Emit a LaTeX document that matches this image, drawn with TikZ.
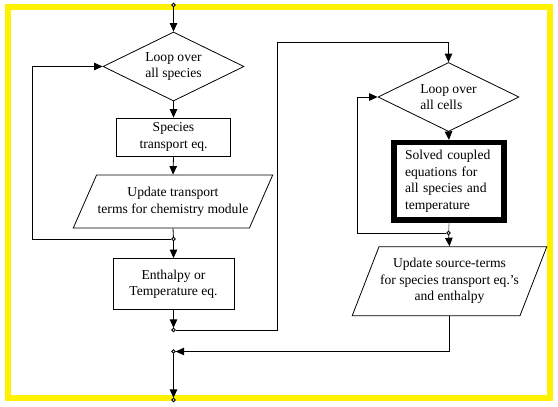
\documentclass[tikz,border=0pt]{standalone}
\usepackage{fontspec}
\setmainfont{Liberation Serif}
\usetikzlibrary{shapes.geometric,arrows.meta,positioning}

\tikzset{
  flow/.style={-{Triangle[length=8.5pt,width=7.5pt]}},
  joint/.style={circle,draw,fill=white,inner sep=0pt,minimum size=3.5pt},
  loopbox/.style={diamond,draw,aspect=2.03,minimum width=141pt,minimum height=69pt,inner sep=0pt},
  eqbox/.style={rectangle,draw,align=center},
  iobox/.style={trapezium,draw,trapezium stretches=true,align=center,inner sep=1pt}
}

\begin{document}
\begin{tikzpicture}[x=1pt,y=-1pt,line width=0.8pt,font=\fontsize{13.6}{16.5}\selectfont]
\useasboundingbox (0,0) rectangle (558,407);
% \draw [help lines,step=50] (0,0) grid (558,407) ;

\draw [yellow,line width=6pt] (8,7) rectangle (550,398) ;

% left column
\node [joint] (start) at (173.5,5) {} ;
\node [loopbox,align=center] (loopA) at (173.5,66.5) {Loop over\\all species} ;
\node [eqbox,minimum width=114pt,minimum height=38pt] (species) at (173.5,137) {Species\\transport eq.} ;
\node [iobox,trapezium left angle=53,trapezium right angle=127,minimum width=200pt,minimum height=53pt] (update) at (173,201.5) {Update transport\\terms for chemistry module} ;
\node [joint] (j1) at (173.5,239) {} ;
\node [eqbox,minimum width=121pt,minimum height=51pt] (enthalpy) at (173.5,284) {Enthalpy or\\Temperature eq.} ;
\node [joint] (j2) at (173.5,330) {} ;
\node [joint] (j4) at (173.5,351.5) {} ;
\node [joint] (finish) at (173.5,400) {} ;
\coordinate (backA) at (32,239) ;
\coordinate (up) at (277.5,42.5) ;

% right column
\node [loopbox,align=left] (loopB) at (448.5,97) {Loop over\\all cells} ;
\node [draw,line width=5.3pt,minimum width=110pt,minimum height=77.5pt,text width=88pt,align=left,inner sep=0pt] (solver) at (449,181.3) {Solved coupled\\equations for\\all species and\\temperature} ;
\node [joint] (j3) at (448.5,233) {} ;
\node [iobox,trapezium left angle=60.5,trapezium right angle=119.5,minimum width=187pt,minimum height=69pt] (source) at (449.5,281.2) {Update source-terms\\for species transport eq.'s\\and enthalpy} ;
\coordinate (backB) at (357.5,233) ;

\draw [flow] (start) -- (loopA.north) ;
\draw [flow] (loopA.south) -- (species.north) ;
\draw [flow] (species.south) -- (update.north) ;
\draw (update.south) -- (j1) ;
\draw [flow] (j1) -- (backA) |- (loopA.west) ;
\draw [flow] (j1) -- (enthalpy.north) ;
\draw [flow] (enthalpy.south) -- (j2) ;
\draw [flow] (j2) -| (up) -| (loopB.north) ;
\draw [flow] (loopB.south) -- (solver.north) ;
\draw [gray] (solver.south) -- (j3) ;
\draw [flow] (j3) -- (backB) |- (loopB.west) ;
\draw [flow] (j3) -- (source.north) ;
\draw [flow] (source.south) |- (j4) ;
\draw [flow] (j4) -- (finish) ;
\end{tikzpicture}
\end{document}
